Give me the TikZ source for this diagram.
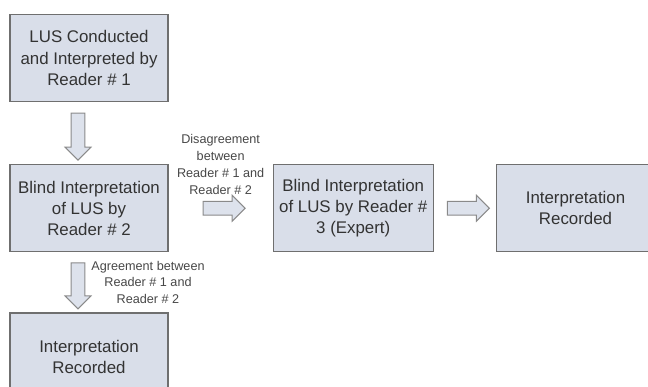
\documentclass[tikz,border=0pt]{standalone}
\usepackage{fontspec}
\setmainfont{Liberation Sans}
\usetikzlibrary{positioning, calc, shapes.arrows}
\definecolor{slate}{HTML}{D9DEE9}
\definecolor{rim}{HTML}{6F6F6F}
\definecolor{mist}{HTML}{DDE2EC}
\definecolor{ash}{HTML}{8A8A8A}
\definecolor{ink}{HTML}{333333}

\begin{document}
\begin{tikzpicture}[
      stage/.style={draw=rim, line width=0.9pt, fill=slate, text=ink,
        align=center, font=\fontsize{12}{15}\selectfont,
        minimum width=3.95cm, minimum height=2.175cm, inner sep=2pt},
      fatarrow/.style={single arrow, draw=ash, line width=0.7pt, fill=mist,
        inner xsep=0pt, inner ysep=0.16cm, single arrow head extend=0.15cm,
        minimum height=1.1cm},
      note/.style={text=ink!90, align=center, font=\fontsize{9}{12}\selectfont}]
    \useasboundingbox (0,0) rectangle (16.2,-9.675);
    \node[stage] (reader1) at (2.225,-1.45) {LUS Conducted\\and Interpreted by\\Reader \# 1};
    \node[stage, below=1.55cm of reader1] (reader2) {Blind Interpretation\\of LUS by\\Reader \# 2};
    \node[stage, below=1.5cm of reader2] (recordA) {Interpretation\\Recorded};
    \node[stage, right=2.6cm of reader2, minimum width=4cm]
      (reader3) {Blind Interpretation\\of LUS by Reader \#\\3 (Expert)};
    \node[stage, right=1.55cm of reader3] (recordB) {Interpretation\\Recorded};
    % block arrows between the stages
    \node[fatarrow, rotate=-90, minimum height=1.175cm]
      (down1) at ($($(reader1.south)!0.5!(reader2.north)$)+(-0.275,0)$) {};
    \node[fatarrow, rotate=-90, minimum height=1.15cm]
      (down2) at ($($(reader2.south)!0.5!(recordA.north)$)+(-0.275,0)$) {};
    \node[fatarrow, minimum height=1.05cm] (right1) at ($(reader2.east)!0.5!(reader3.west)$) {};
    \node[fatarrow, minimum height=1.05cm] (right2) at ($(reader3.east)!0.5!(recordB.west)$) {};
    \node[note] (disagree) at ($(right1)+(0,1.1)$)
      {Disagreement\\between\\Reader \# 1 and\\Reader \# 2};
    \node[note] (agree) at ($(down2)+(1.75,0)$)
      {Agreement between\\Reader \# 1 and\\Reader \# 2};
  \end{tikzpicture}
\end{document}
